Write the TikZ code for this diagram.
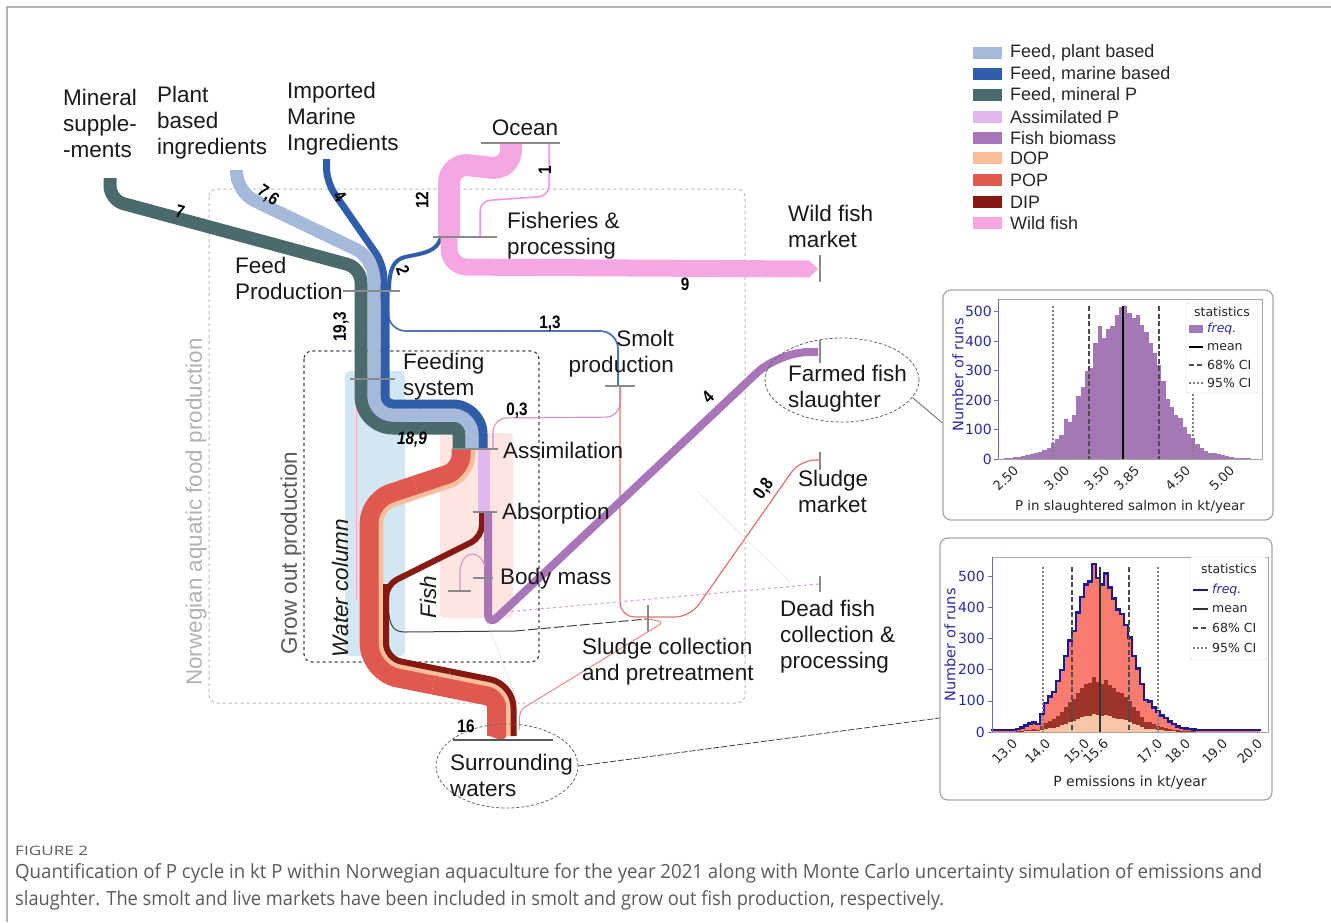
\documentclass[tikz,border=0pt]{standalone}
\usepackage{fontspec}
\usepackage{graphicx}
\setmainfont{Liberation Sans}
\newfontfamily\djv{DejaVu Sans}
\newfontfamily\capf{Open Sans}
\usetikzlibrary{shapes.geometric}
\definecolor{cPlant}{HTML}{A6B9DA}
\definecolor{cMarine}{HTML}{2F5DA9}
\definecolor{cMineral}{HTML}{4A6A6D}
\definecolor{cAssim}{HTML}{E2B6EE}
\definecolor{cFish}{HTML}{A876B8}
\definecolor{cDOP}{HTML}{FBBE9B}
\definecolor{cPOP}{HTML}{E0584F}
\definecolor{cDIP}{HTML}{861A12}
\definecolor{cWild}{HTML}{F6A7E3}
\definecolor{cBar}{HTML}{8A8A8A}
\definecolor{cWater}{HTML}{D3E7F3}
\definecolor{cFishBg}{HTML}{FDE5E1}
\definecolor{cGrow}{HTML}{3B4A5A}
\definecolor{cHA}{HTML}{A677B6}
\definecolor{cHPOP}{HTML}{FA7B70}
\definecolor{cHDIP}{HTML}{9E3429}
\definecolor{cHDOP}{HTML}{F8C6A6}
\definecolor{navy}{HTML}{1B1B8F}
\definecolor{axblue}{HTML}{2B2BA8}
\definecolor{capgray}{HTML}{5A5A5A}
\newcommand\fl[1]{\scalebox{0.85}[1]{#1}}
\newcommand\fitto[2]{\setbox0\hbox{#2}\pgfmathsetmacro\fitscale{#1/\the\wd0}\scalebox{\fitscale}[1]{\box0}}
\tikzset{
 band/.style={line cap=butt, line join=round},
 lab/.style={font=\fontsize{22.5}{26}\selectfont, align=left, anchor=west, inner sep=0pt, text=black!90},
 flab/.style={font=\bfseries\fontsize{18}{18}\selectfont, inner sep=0pt, text=black},
 nbar/.style={draw=cBar, line width=2.4pt},
 tk/.style={draw=cBar, line width=1.4pt},
 leg/.style={font=\fontsize{18}{20}\selectfont, anchor=west, inner sep=0pt, text=black!85},
 hl/.style={font=\djv\fontsize{13}{15}\selectfont, inner sep=0pt, text=black!85},
 lgl/.style={font=\djv\fontsize{12.5}{14}\selectfont, inner sep=0pt, anchor=west, text=black!85},
 panel/.style={draw=gray!70, line width=1.2pt, rounded corners=8pt, fill=white, inner sep=0pt},
 dashl/.style={line width=1.5pt, dash pattern=on 5pt off 2.5pt, draw=black!70},
 dotl/.style={line width=1.5pt, dash pattern=on 1.5pt off 2.5pt, draw=black!50},
}
\begin{document}
\begin{tikzpicture}[x=1pt,y=-1pt]
\useasboundingbox (0,0) rectangle (1331,922);
\draw[gray!60, line width=1.5pt] (7,922) -- (7,7) -- (1331,7);

% ---------- background boxes
\fill[cWater, rounded corners=4pt] (345,371) rectangle (405,656);
\fill[cFishBg, rounded corners=4pt] (440,433) rectangle (513,618);
\draw[gray!55, dashed, line width=1pt, rounded corners=8pt] (209,189) rectangle (745,703);
\draw[cGrow, dashed, line width=1.2pt, rounded corners=8pt] (304,351) rectangle (539,662);

% ---------- thin flows (under bands)
\draw[cPOP!45, line width=1pt] (356,380) -- (356,600);
\draw[gray!15, line width=1pt] (698,492) -- (790,582);
\draw[gray!15, line width=1pt] (487,622) -- (518,703);
\draw[cMarine!85, line width=1.8pt, rounded corners=18pt] (388,295) -- (388,331) -- (618,331) -- (618,386);
\draw[cMarine, line width=4pt] (441,237) .. controls (437,252) and (424,253) .. (405,257) .. controls (394,260) and (389,268) .. (389,292);
\draw[cAssim!80!purple, line width=1.2pt, rounded corners=14pt] (620,386) -- (620,417) -- (493,418) -- (493,449);
\draw[cPOP!85, line width=1.2pt, rounded corners=15pt] (620,386) -- (620,617) -- (690,617) -- (800,460) -- (819,460);
\draw[cPOP!70, line width=1pt, rounded corners=6pt] (648,619) -- (664,622) -- (520,710) -- (519,730);
\draw[black!75, line width=1pt] (388,596) .. controls (388,625) and (392,632) .. (405,632) -- (515,631);
\draw[black!75, line width=1pt, dash pattern=on 10pt off 3pt] (515,631) -- (647,619);
\draw[cAssim!90!purple, line width=1.2pt, dashed] (505,612) -- (819,584);

% ---------- feed bands
\draw[band, cMineral, line width=13pt, rounded corners=14pt] (110,178) -- (110,200) -- (361,268) -- (361,330);
\draw[band, cMineral, line width=13pt, rounded corners=32pt] (361,329) -- (361,428) -- (420,428);
\draw[band, cMineral, line width=13pt, rounded corners=6pt] (419,428) -- (459,428) -- (459,450);
\draw[band, cPlant, line width=13pt, rounded corners=20pt] (236.5,170) -- (236.5,192) -- (374,258) -- (374,330);
\draw[band, cPlant, line width=13pt, rounded corners=19pt] (374,329) -- (374,415) -- (420,415);
\draw[band, cPlant, line width=13pt, rounded corners=19pt] (419,415) -- (472,415) -- (472,450);
\draw[band, cMarine, line width=7pt, rounded corners=14pt] (326.5,159) -- (326.5,182) -- (384,265) -- (384,300);
\draw[band, cMarine, line width=9pt, rounded corners=8pt] (385,284) -- (385,404) -- (420,404);
\draw[band, cMarine, line width=9pt, rounded corners=30pt] (419,404) -- (483,404) -- (483,450);

% ---------- wild fish
\draw[band, cWild, line width=22pt, rounded corners=20pt] (511,143) -- (511,170) -- (449,163) -- (449,237);
\draw[band, cWild, line width=17pt, rounded corners=18pt] (449,236) -- (449,267) -- (810,269);
\fill[cWild] (809,260.5) -- (818,269) -- (809,277.5) -- cycle;
\draw[cWild!85!magenta, line width=1.5pt, rounded corners=10pt] (480,237) -- (480,201) -- (549,196) -- (549,143);

% ---------- POP / DOP / DIP ribbon
\draw[band, cPOP, line width=19.6pt, rounded corners=15pt] (461.5,449) -- (461.5,470) -- (415.5,485.3);
\draw[band, cPOP, line width=19.6pt, rounded corners=22pt] (415.5,485.3) -- (369.5,500.7) -- (369.5,580);
\draw[band, cDOP, line width=4.6pt, rounded corners=23.3pt] (473,449) -- (473,478.3) -- (427,493.6);
\draw[band, cDOP, line width=4.6pt, rounded corners=13.7pt] (427,493.6) -- (381,509) -- (381,580);
\draw[band, cPOP, line width=19.6pt, rounded corners=28.7pt] (369.5,579) -- (369.5,672) -- (433.25,684.75);
\draw[band, cPOP, line width=19.6pt, rounded corners=9.8pt] (433.25,684.75) -- (497,697.5) -- (497,736);
\fill[cPOP] (487.2,735) -- (506.8,735) -- (503,741) -- cycle;
\draw[band, cDOP, line width=4.6pt, rounded corners=19.3pt] (381,579) -- (381,662.6) -- (444.75,675.35);
\draw[band, cDOP, line width=4.6pt, rounded corners=19.3pt] (444.75,675.35) -- (508.5,688.1) -- (508.5,736);
\draw[band, cDIP, line width=6pt, rounded corners=12pt] (482,513) -- (482,537) -- (386,585) -- (386,600);
\draw[band, cDIP, line width=6pt, rounded corners=15.2pt] (386,584) -- (386,658.5) -- (449.75,671.25);
\draw[band, cDIP, line width=6pt, rounded corners=23.4pt] (449.75,671.25) -- (513.5,684) -- (513.5,736);

% ---------- fish
\draw[band, cAssim, line width=12pt] (484,449) -- (484,513);
\draw[band, cFish, line width=8pt, rounded corners=12pt] (488,513) -- (488,626) -- (640,483);
\draw[band, cFish, line width=8pt, rounded corners=30pt] (640,483) -- (779,352) -- (818,352);
\draw[cAssim!80!purple, line width=1.1pt] (485,567) .. controls (480,548) and (461,550) .. (460,572) -- (460,591);

% ---------- process bars
\draw[nbar] (481,143) -- (560,143);
\draw[nbar] (433,237) -- (497,237);
\draw[nbar] (343,291) -- (400,291);
\draw[nbar] (350,379) -- (395,379);
\draw[nbar] (452,449) -- (498,449);
\draw[nbar] (473,512) -- (497,512);
\draw[nbar] (473,578) -- (493,578);
\draw[nbar] (448,591) -- (471,591);
\draw[nbar] (605,386) -- (635,386);
\draw[nbar] (648,605) -- (648,631);
\draw[black!65, line width=1.5pt] (453,740) -- (553,740);
\draw[tk] (820,255) -- (820,282);
\draw[tk] (820,340) -- (820,363);
\draw[tk] (820,452) -- (820,470);
\draw[tk] (820,576) -- (820,592);

% ---------- ellipses
\node[draw=black!60, dash pattern=on 3pt off 2pt, line width=0.8pt, ellipse, minimum width=154pt, minimum height=84pt, inner sep=0pt] (farmE) at (842,380) {};
\node[draw=black!60, dash pattern=on 3pt off 2pt, line width=0.8pt, ellipse, minimum width=142pt, minimum height=84pt, inner sep=0pt] (surrE) at (507,766) {};

% ---------- labels
\node[lab] (mineral) at (63,123) {Mineral\\supple-\\-ments};
\node[lab] (plant) at (157,123) {Plant\\based\\ingredients};
\node[lab] (imported) at (287,119) {Imported\\Marine\\Ingredients};
\node[lab, anchor=center] (ocean) at (525,128) {Ocean};
\node[lab] (fisheries) at (507,236) {Fisheries \&\\processing};
\node[lab] (wildmkt) at (788,226) {Wild fish\\market};
\node[lab] (feedprod) at (235,278) {Feed\\Production};
\node[lab] (feedsys) at (403,377) {Feeding\\system};
\node[lab, anchor=east, align=right] (smolt) at (674,354) {Smolt\\production};
\node[lab] (assim) at (503,450) {Assimilation};
\node[lab] (absorp) at (502,514) {Absorption};
\node[lab] (bodym) at (500,579) {Body mass};
\node[lab] (farmed) at (788,389) {Farmed fish\\slaughter};
\node[lab] (sludgemkt) at (798,491) {Sludge\\market};
\node[lab] (deadfish) at (780,637) {Dead fish\\collection \&\\processing};
\node[lab] (sludgecol) at (582,662) {Sludge collection\\and pretreatment};
\node[lab] (surround) at (450,775) {Surrounding\\waters};
\node[lab, anchor=center, rotate=90, text=black!30] (norw) at (196,512) {Norwegian aquatic food production};
\node[lab, anchor=center, rotate=90, text=black!65] (growout) at (291,553) {Grow out production};
\node[lab, anchor=center, rotate=90, font=\itshape\fontsize{22.5}{26}\selectfont] (water) at (340,588) {Water column};
\node[lab, anchor=center, rotate=90, font=\itshape\fontsize{22.5}{26}\selectfont] (fish) at (428,597) {Fish};

% ---------- flow values
\node[flab, rotate=-15] (v7) at (180,212) {\fl{7}};
\node[flab, rotate=-35] (v76) at (268,196) {\fl{7,6}};
\node[flab, rotate=-55] (v4a) at (340,196) {\fl{4}};
\node[flab, rotate=90] (v12) at (422,200) {\fl{12}};
\node[flab, rotate=90] (v1) at (545,170) {\fl{1}};
\node[flab, rotate=-70] (v2) at (403,270) {\fl{2}};
\node[flab, rotate=90] (v193) at (341,327) {\fl{19,3}};
\node[flab, font=\bfseries\itshape\fontsize{18}{18}\selectfont] (v189) at (412,440) {\fl{18,9}};
\node[flab] (v13) at (550,324) {\fl{1,3}};
\node[flab] (v9) at (685,284) {\fl{9}};
\node[flab] (v03) at (517,411) {\fl{0,3}};
\node[flab, rotate=44] (v4b) at (708,397) {\fl{4}};
\node[flab, rotate=55] (v08) at (764,489) {\fl{0,8}};
\node[flab] (v16) at (466,726) {\fl{16}};

% ---------- legend
\fill[cPlant] (973,47) rectangle (1002,59);
\fill[cMarine] (973,68) rectangle (1002,80);
\fill[cMineral] (973,89) rectangle (1002,101);
\fill[cAssim] (973,111) rectangle (1002,123);
\fill[cFish] (973,132) rectangle (1002,144);
\fill[cDOP] (973,152) rectangle (1002,164);
\fill[cPOP] (973,174) rectangle (1002,186);
\fill[cDIP] (973,196) rectangle (1002,208);
\fill[cWild] (973,217) rectangle (1002,229);
\node[leg] (l1) at (1010,53) {Feed, plant based};
\node[leg] (l2) at (1010,74) {Feed, marine based};
\node[leg] (l3) at (1010,95) {Feed, mineral P};
\node[leg] (l4) at (1010,117) {Assimilated P};
\node[leg] (l5) at (1010,138) {Fish biomass};
\node[leg] (l6) at (1010,158) {DOP};
\node[leg] (l7) at (1010,180) {POP};
\node[leg] (l8) at (1010,202) {DIP};
\node[leg] (l9) at (1010,223) {Wild fish};

% ---------- panels
\node[panel, minimum width=330pt, minimum height=230pt] (panel1) at (1108,405) {};
\node[panel, minimum width=332pt, minimum height=262pt] (panel2) at (1106,669) {};
\draw[black!60, line width=0.8pt] (farmE.-14) -- ([yshift=-18pt]panel1.west);
\draw[black!75, line width=0.8pt, dash pattern=on 6pt off 2pt] (surrE.east) -- ([yshift=-49pt]panel2.west);

% ---------- histogram 1
\def\histA{2,4,6,8,10,12,16,22,25,30,38,55,68,80,135,125,150,215,245,300,310,395,450,410,440,450,490,515,520,495,480,490,455,430,395,360,320,265,205,175,150,140,110,85,70,50,38,28,22,20,18,14,10,6,4,3,3,2}
\foreach \c [count=\i from 0] in \histA {
  \fill[cHA] ({1004+4.25*\i},459) rectangle ({1004+4.25*\i+4.3},{459-0.2947*\c});
}
\draw[gray!70, line width=0.8pt] (998,299) rectangle (1262,459);
\draw[axblue!70, line width=1pt] (998,299) -- (998,459);
\foreach \k/\t in {0/0,1/100,2/200,3/300,4/400,5/500} {
  \draw[axblue!70] (994,{459-29.47*\k}) -- (998,{459-29.47*\k});
  \node[hl, anchor=east, text=axblue, font=\djv\fontsize{14}{15}\selectfont] at (992,{459-29.47*\k}) {\t};
}
\draw[dotl] (1053,306) -- (1053,459);
\draw[dashl] (1089,306) -- (1089,459);
\draw[black, line width=1.5pt] (1123,306) -- (1123,459);
\draw[dashl] (1159,306) -- (1159,459);
\draw[dotl] (1193,306) -- (1193,459);
\foreach \xx/\t in {1016/2.50,1067/3.00,1107/3.50,1137/3.85,1188/4.50,1232/5.00} {
  \node[hl, rotate=45, anchor=east] at (\xx,468) {\t};
}
\node[hl, font=\djv\fontsize{13.4}{15}\selectfont] (xlab1) at (1130,507) {P in slaughtered salmon in kt/year};
\node[hl, rotate=90, text=axblue, font=\djv\fontsize{14.5}{15}\selectfont] (ylab1) at (958,375) {Number of runs};
\node[draw=gray!40, fill=white, rounded corners=2pt, minimum width=72pt, minimum height=90pt, inner sep=0pt] (lgA) at (1222,348) {};
\node[lgl, anchor=center] (lgAt) at (1222,312) {statistics};
\fill[cHA] (1189,325) rectangle (1203,333);
\node[lgl, text=axblue] (lgA1) at (1207,329) {\itshape freq.};
\draw[black, line width=1.5pt] (1189,347) -- (1203,347);
\node[lgl] (lgA2) at (1207,347) {mean};
\draw[dashl] (1189,365) -- (1203,365);
\node[lgl] (lgA3) at (1207,365) {68\% CI};
\draw[dotl] (1189,383) -- (1203,383);
\node[lgl] (lgA4) at (1207,383) {95\% CI};

% ---------- histogram 2
\def\histB{3,3,3,3,3,4,6,12,17,24,28,22,55,90,110,125,160,195,240,290,320,380,430,470,480,535,490,470,505,460,425,390,375,340,300,240,200,150,100,95,75,62,50,42,30,22,15,10,8,6,5,3,3,3,3,3,3,3,3,3,3,3,3,3,3,3,3}
\foreach \c [count=\i from 0] in \histB {
  \fill[cHPOP] ({992+4*\i},732) rectangle ({992+4*\i+4.05},{732-0.312*\c});
  \fill[cHDIP] ({992+4*\i},732) rectangle ({992+4*\i+4.05},{732-0.103*\c});
  \fill[cHDOP] ({992+4*\i},732) rectangle ({992+4*\i+4.05},{732-0.034*\c});
}
\draw[navy, line width=2.5pt, line join=miter] (992,731) \foreach \c [count=\i from 0] in \histB { -- ({992+4*\i},{731-0.312*\c}) -- ({996+4*\i},{731-0.312*\c}) } -- (1260,731);
\draw[gray!70, line width=0.8pt] (992,557) rectangle (1268,732);
\draw[axblue!70, line width=1pt] (992,557) -- (992,732);
\foreach \k/\t in {0/0,1/100,2/200,3/300,4/400,5/500} {
  \draw[axblue!70] (988,{732-31.2*\k}) -- (992,{732-31.2*\k});
  \node[hl, anchor=east, text=axblue, font=\djv\fontsize{14}{15}\selectfont] at (985,{732-31.2*\k}) {\t};
}
\draw[dotl] (1043,567) -- (1043,732);
\draw[dashl] (1072,567) -- (1072,732);
\draw[black!80, line width=1.5pt] (1100,567) -- (1100,732);
\draw[dashl] (1129,567) -- (1129,732);
\draw[dotl] (1158,567) -- (1158,732);
\foreach \xx/\t in {1015/13.0,1048/14.0,1087/15.0,1106/15.6,1160/17.0,1188/18.0,1225/19.0,1260/20.0} {
  \node[hl, rotate=45, anchor=east] at (\xx,741) {\t};
}
\node[hl, font=\djv\fontsize{14}{15}\selectfont] (xlab2) at (1130,783) {P emissions in kt/year};
\node[hl, rotate=90, text=axblue, font=\djv\fontsize{14.5}{15}\selectfont] (ylab2) at (950,645) {Number of runs};
\node[draw=gray!40, fill=white, rounded corners=2pt, minimum width=77pt, minimum height=103pt, inner sep=0pt] (lgB) at (1228.5,608.5) {};
\node[lgl, anchor=center] (lgBt) at (1229,569) {statistics};
\draw[navy, line width=2.5pt] (1193,590) -- (1208,590);
\node[lgl, text=axblue] (lgB1) at (1212,590) {\itshape freq.};
\draw[black!80, line width=1.5pt] (1193,609) -- (1208,609);
\node[lgl] (lgB2) at (1212,609) {mean};
\draw[dashl] (1193,628) -- (1208,628);
\node[lgl] (lgB3) at (1212,628) {68\% CI};
\draw[dotl] (1193,648) -- (1208,648);
\node[lgl] (lgB4) at (1212,648) {95\% CI};

% ---------- caption
\node[anchor=west, inner sep=0pt, text=capgray, font=\capf\fontsize{13}{15}\selectfont] (figlab) at (15,851) {\fitto{73}{FIGURE 2}};
\node[anchor=west, inner sep=0pt, text=capgray, font=\capf\fontsize{19.5}{22}\selectfont] (cap1) at (15,873) {\fitto{1247}{Quantification of P cycle in kt P within Norwegian aquaculture for the year 2021 along with Monte Carlo uncertainty simulation of emissions and}};
\node[anchor=west, inner sep=0pt, text=capgray, font=\capf\fontsize{19.5}{22}\selectfont] (cap2) at (15,900) {\fitto{929}{slaughter. The smolt and live markets have been included in smolt and grow out fish production, respectively.}};
\end{tikzpicture}
\end{document}
